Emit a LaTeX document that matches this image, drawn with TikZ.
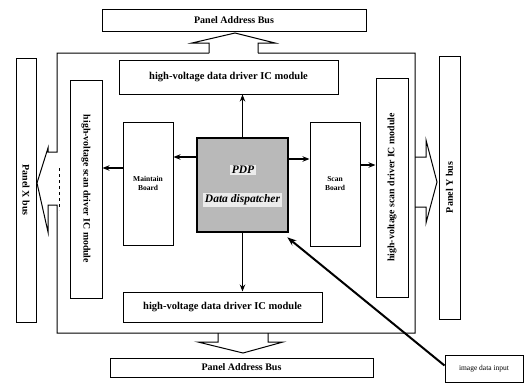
\documentclass[tikz,border=0pt]{standalone}
\usepackage{fontspec}
\setmainfont{Liberation Serif}
\usetikzlibrary{arrows.meta,calc}
\begin{document}
\begin{tikzpicture}[x=1pt,y=-1pt,
  box/.style={draw, line width=1pt, inner sep=0pt, align=center},
  bigtxt/.style={font=\fontsize{10.5}{12}\selectfont\bfseries},
  vtxt/.style={font=\fontsize{9.8}{12}\selectfont\bfseries},
  bustxt/.style={font=\fontsize{10}{12}\selectfont\bfseries},
  smalltxt/.style={font=\fontsize{7.5}{9}\selectfont\bfseries},
  pdptxtstyle/.style={fill=gray!15, inner sep=1.5pt, font=\fontsize{11.5}{13}\selectfont\bfseries\itshape},
  arr/.style={line width=1.6pt, -{Stealth[length=7pt,width=5.5pt]}},
  outline/.style={line width=1pt}]
\useasboundingbox (0,0) rectangle (525,384);
% boxes
\node[box, bustxt, minimum width=264pt, minimum height=22pt] (topbus) at (234,20) {Panel Address Bus};
\node[box, bigtxt, minimum width=219pt, minimum height=34pt] (topdrv) at (228.5,77) {high-voltage data driver IC module};
\node[box, bustxt, minimum width=20pt, minimum height=264pt] (xbus) at (26,190) {\rotatebox{-90}{Panel X bus}};
\node[box, vtxt, minimum width=32pt, minimum height=218pt] (lscan) at (86,189) {\rotatebox{-90}{high-voltage scan driver IC module}};
\node[box, smalltxt, minimum width=50pt, minimum height=123pt] (maint) at (148,183.5) {Maintain\\Board};
\node[draw, line width=2.6pt, fill=gray!55, minimum width=91pt, minimum height=94pt, inner sep=0pt] (pdp) at (242.5,185) {};
\node[pdptxtstyle] (pdptxt) at (243,170) {PDP};
\node[pdptxtstyle] (distxt) at (242.5,200) {Data dispatcher};
\node[box, smalltxt, minimum width=50pt, minimum height=124pt] (scanb) at (335,184) {Scan\\Board};
\node[box, vtxt, minimum width=32pt, minimum height=219pt] (rscan) at (392,187.5) {\rotatebox{90}{high-voltage scan driver IC module}};
\node[box, bustxt, minimum width=21pt, minimum height=263pt] (ybus) at (449.5,187.5) {\rotatebox{90}{Panel Y bus}};
\node[box, bigtxt, minimum width=199pt, minimum height=30pt] (botdrv) at (222.5,307) {high-voltage data driver IC module};
\node[box, bustxt, minimum width=263pt, minimum height=19pt] (botbus) at (241.5,367.5) {Panel Address Bus};
\node[box, font=\fontsize{7.5}{9}\selectfont, minimum width=78pt, minimum height=27pt] (imgin) at (484,368.5) {image data input};
% outer frame with block arrows
\draw[outline, line join=miter]
  (209,53) -- (57,53) -- (57,152) -- (48,152) -- (48,148) -- (37,183) -- (48,232) -- (48,205) -- (57,205)
  -- (57,333) -- (415,333) -- (415,53) -- (258,53);
\draw[outline, dashed] (59,168) -- (59,210);
\draw[outline, line join=miter] (209,53) -- (209,43) -- (192,43) -- (235,33) -- (275,43) -- (258,43) -- (258,53);
\draw[outline, line join=miter] (218,333) -- (218,342) -- (198,342) -- (243,353) -- (283,342) -- (268,342) -- (268,333);
\draw[outline, line join=miter] (415,157) -- (426,157) -- (426,140) -- (437,182) -- (426,223) -- (426,207) -- (415,207);
% arrows
\draw[arr] (pdp.north) -- (pdp.north |- topdrv.south);
\draw[arr] (pdp.south) -- (pdp.south |- botdrv.north);
\draw[arr] (pdp.west |- 0,157) -- (maint.east |- 0,157);
\draw[arr] (pdp.east |- 0,159) -- (scanb.west |- 0,159);
\draw[arr] (maint.west |- 0,168) -- (lscan.east |- 0,168);
\draw[arr] (scanb.east |- 0,165) -- (rscan.west |- 0,165);
\draw[line width=2pt, -{Stealth[length=9pt,width=6.5pt]}] ($(imgin.west)+(0,-3)$) -- ($(pdp.south east)+(-2,4)$);
\end{tikzpicture}
\end{document}
